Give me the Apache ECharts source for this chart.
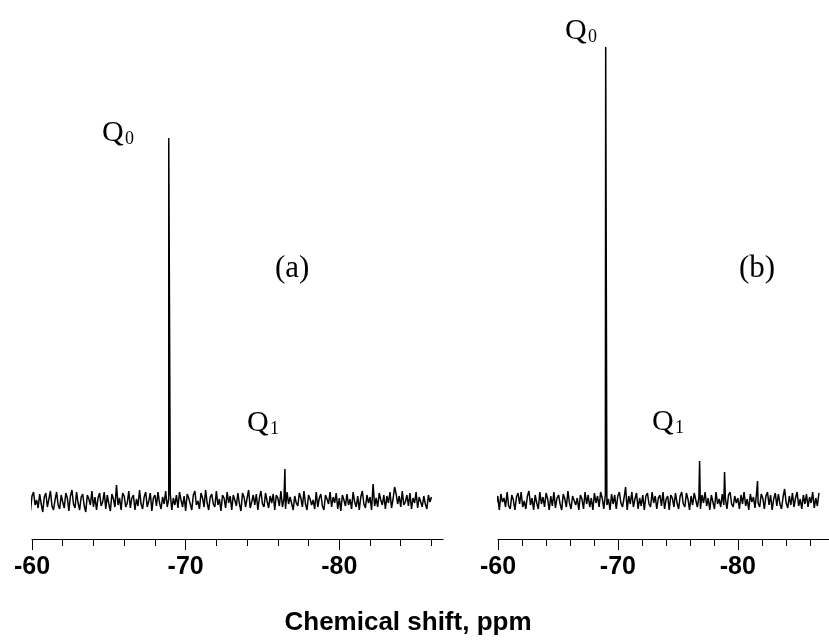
<!DOCTYPE html>
<html>
<head>
<meta charset="utf-8">
<script src="https://cdn.jsdelivr.net/npm/echarts@6/dist/echarts.min.js"></script>
<style>
html,body{margin:0;padding:0;background:#fff;}
#chart{width:829px;height:640px;}
</style>
</head>
<body>
<div id="chart"></div>
<script>
// ---- data (chemical shift in ppm, intensity in arbitrary units) ----
var majorTicks = [-60, -70, -80];
var minorTicks = [-62, -64, -66, -68, -72, -74, -76, -78, -82, -84, -86];
var axisTitle = 'Chemical shift, ppm';

// Spectrum (a): baseline noise samples
var noiseStartA = -59.5;
var noiseStepA = -0.1;
var noiseA = [
  3,-8,6,-2,-10,5,9,-4,1,-7,
  7,-3,-11,4,8,-6,2,10,-5,-9,
  1,9,-4,-8,6,-1,-7,8,3,-10,
  5,11,-3,-7,9,-2,-9,4,7,-5,
  -11,6,2,-4,10,-6,4,-9,3,8,
  -5,-1,9,-8,6,-3,-10,7,2,-6,
  16,-4,3,-9,8,5,-6,-2,10,-7,
  3,6,-9,2,-5,11,-3,-8,4,9,
  -6,0,8,-10,3,6,-5,9,-2,-8,
  4,-3,10,-6,2,7,-9,3,-4,6,
  -7,9,1,-6,5,-10,7,3,-3,-9,
  6,10,-4,0,-8,8,3,-6,11,-2,
  -9,4,7,-3,-6,10,-4,2,-10,6,
  3,-7,9,-2,5,-9,6,1,-5,8,
  -3,-10,8,4,-6,3,11,-7,-1,6,
  -4,7,-9,3,10,-3,-6,8,0,-7,
  5,-2,7,-9,6,3,-5,10,-6,2,
  -8,9,-3,4,6,-9,5,-2,-5,8,
  3,-6,10,-3,-9,6,2,-4,1,-8,
  9,-6,3,7,-5,-9,6,2,-3,9,
  -6,4,-2,8,-8,3,-10,6,1,-5,
  7,-4,2,-8,9,-1,-6,5,-9,4,
  10,-3,-7,6,-2,4,-9,17,-5,3,
  -6,8,1,-4,6,-8,5,-2,9,-7,
  2,14,7,-3,5,-6,10,-4,-1,6,
  -5,8,-8,3,-2,9,-7,4,2,-6,
  5,-3,-8,6,-1,4
];
var peakShiftsA = [-68.9, -76.46];
var peakHeightsA = [363, 32];

// Spectrum (b): baseline noise samples
var noiseStartB = -59.2;
var noiseStepB = -0.13;
var noiseB = [
  -4,7,2,-8,9,-3,5,-9,7,-1,
  3,-6,9,-5,-8,6,1,-9,4,8,
  -3,9,-6,0,-8,5,10,-4,3,-9,
  6,-2,-8,9,-3,4,-6,8,2,-9,
  5,-5,9,-7,3,6,-3,-9,7,2,
  -6,10,-2,-8,5,4,-4,3,-9,6,
  2,-8,9,-3,6,-6,3,-9,8,-2,
  5,-6,9,3,-8,6,-4,2,-9,7,
  -3,6,-8,5,9,-2,-6,3,14,-9,
  5,-3,9,-6,2,8,-8,3,-5,6,
  -9,5,8,-3,-6,9,-2,5,-8,3,
  6,-5,9,-8,2,5,-9,6,3,-6,
  8,-2,-8,5,9,-3,-6,8,2,-9,
  5,-4,8,6,-6,3,-8,6,-2,9,
  -5,3,-9,6,5,-8,9,-3,2,-6,
  7,-4,3,-8,6,9,-3,-6,5,-2,
  3,-8,6,-3,9,-5,2,-9,7,-1,
  4,-7,8,-2,-6,7,3,-8,5,9,
  -4,6,-9,2,8,-5,7,-3,-8,4,
  12,-2,-7,5,-4,8,-6,3,9,-5,
  2,-8,6,-3,7,-6,4,-2,9,-7,
  3,-5,8
];
var peakShiftsB = [-68.98, -76.81, -78.89, -81.64];
var peakHeightsB = [454, 40, 29, 20];

// ---- build series data ----
function buildSpectrum(start, step, noise, shifts, heights) {
  var pts = noise.map(function (v, i) { return [start + step * i, v]; });
  shifts.forEach(function (s, k) { pts.push([s, heights[k]]); });
  pts.sort(function (p, q) { return q[0] - p[0]; });
  return pts;
}
var dataA = buildSpectrum(noiseStartA, noiseStepA, noiseA, peakShiftsA, peakHeightsA);
var dataB = buildSpectrum(noiseStartB, noiseStepB, noiseB, peakShiftsB, peakHeightsB);

var chart = echarts.init(document.getElementById('chart'), null, {renderer: 'canvas'});

var labelFont = {fontFamily: '"Liberation Sans", Arial, sans-serif', fontWeight: 'bold', fontSize: 25, color: '#000'};

function mainX(gridIndex, min) {
  return {
    type: 'value', gridIndex: gridIndex, position: 'bottom', inverse: true,
    min: min, max: -60,
    axisLine: {show: true, onZero: false, lineStyle: {color: '#000', width: 1}},
    axisTick: {show: true, customValues: minorTicks, length: 7, lineStyle: {color: '#000', width: 1}},
    axisLabel: Object.assign({show: true, customValues: majorTicks, margin: 16,
      formatter: function (v) { return String(v); }}, labelFont),
    splitLine: {show: false}
  };
}
function majorX(gridIndex, min) {
  return {
    type: 'value', gridIndex: gridIndex, position: 'bottom', offset: 0, inverse: true,
    min: min, max: -60,
    axisLine: {show: false, onZero: false},
    axisTick: {show: true, customValues: majorTicks, length: 11, lineStyle: {color: '#000', width: 1}},
    axisLabel: {show: false},
    splitLine: {show: false}
  };
}
function yAx(gridIndex) {
  return {type: 'value', gridIndex: gridIndex, min: -38, max: 462, show: false,
    splitLine: {show: false}};
}

var serif = '"Liberation Serif", "Times New Roman", serif';
function txt(t, x, y, size, family, weight, align) {
  return {
    type: 'text', x: x, y: y, silent: true,
    style: {text: t, fill: '#000', fontSize: size, fontFamily: family || serif,
      fontWeight: weight || 'normal', align: align || 'left', verticalAlign: 'middle'}
  };
}

chart.setOption({
  animation: false,
  backgroundColor: '#fff',
  grid: [
    {left: 32, top: 39, width: 411, height: 500},
    {left: 498, top: 39, width: 331, height: 500}
  ],
  xAxis: [mainX(0, -86.75), majorX(0, -86.75), mainX(1, -87.6), majorX(1, -87.6)],
  yAxis: [yAx(0), yAx(1)],
  series: [
    {type: 'line', xAxisIndex: 0, yAxisIndex: 0, data: dataA, showSymbol: false, symbol: 'none',
      clip: false, lineStyle: {color: '#000', width: 1.5}, sampling: null},
    {type: 'line', xAxisIndex: 2, yAxisIndex: 1, data: dataB, showSymbol: false, symbol: 'none',
      clip: false, lineStyle: {color: '#000', width: 1.5}, sampling: null}
  ],
  graphic: [
    txt('Q', 102, 133, 30), txt('0', 125, 139, 18),
    txt('Q', 247, 423, 30), txt('1', 270, 429, 18),
    txt('(a)', 275, 269, 31),
    txt('Q', 565, 31, 30), txt('0', 588, 37, 18),
    txt('Q', 652, 422, 30), txt('1', 675, 428, 18),
    txt('(b)', 739, 269, 31),
    txt(axisTitle, 408, 623, 26, '"Liberation Sans", Arial, sans-serif', 'bold', 'center')
  ]
});
</script>
</body>
</html>
